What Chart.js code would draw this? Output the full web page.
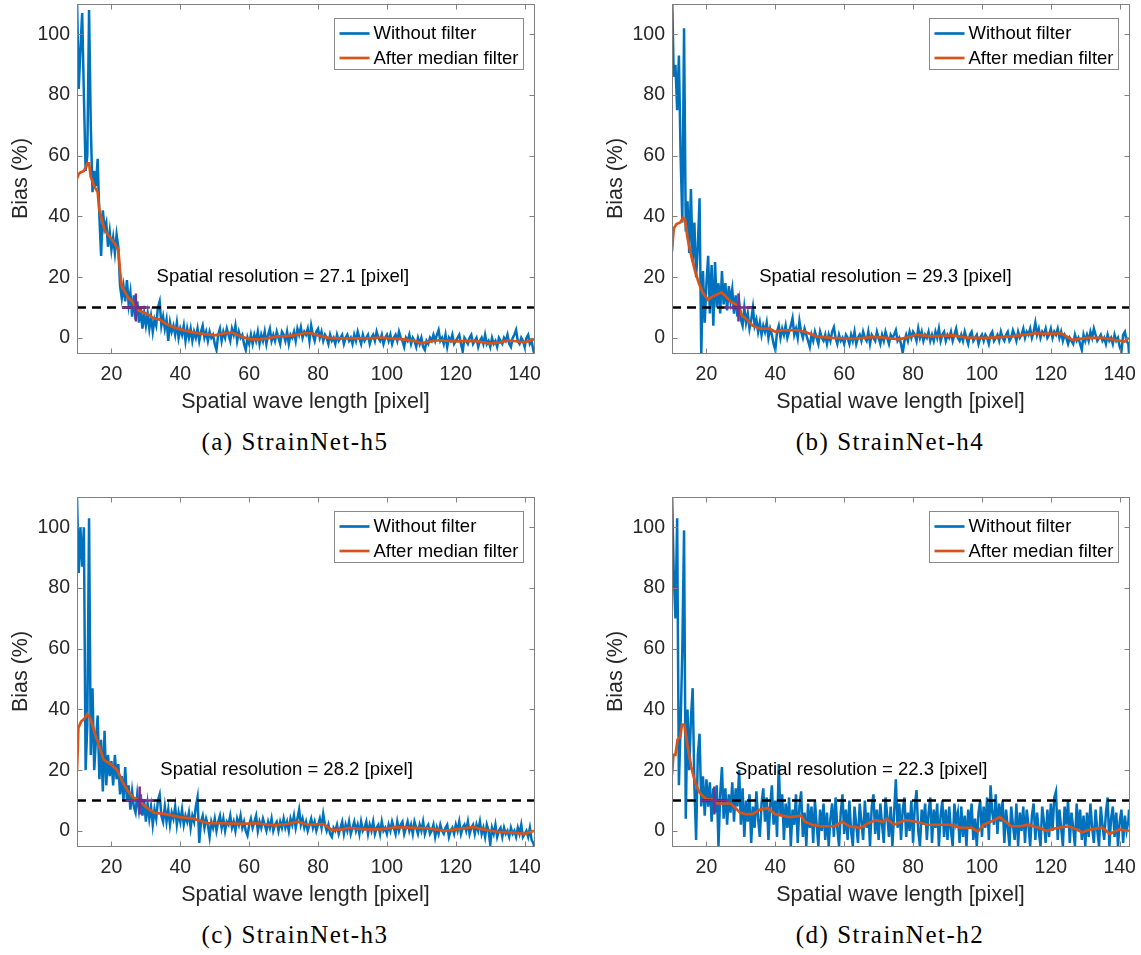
<!DOCTYPE html>
<html>
<head>
<meta charset="utf-8">
<script src="https://cdn.jsdelivr.net/npm/chart.js@4.4.0/dist/chart.umd.min.js"></script>
<style>
html,body{margin:0;padding:0;background:#fff;overflow:hidden;}
body{width:1141px;height:955px;position:relative;}
.panel{position:absolute;width:546px;height:420px;}
.panel canvas{display:block;}
.cap{position:absolute;font-family:"Liberation Serif","Times New Roman",serif;font-size:25px;letter-spacing:1.5px;color:#000;white-space:nowrap;transform:translate(-50%,-50%);}
</style>
</head>
<body>
<div class="panel" style="left:0;top:0"><canvas id="cA" width="546" height="420"></canvas></div>
<div class="panel" style="left:595px;top:0"><canvas id="cB" width="546" height="420"></canvas></div>
<div class="panel" style="left:0;top:493px"><canvas id="cC" width="546" height="420"></canvas></div>
<div class="panel" style="left:595px;top:493px"><canvas id="cD" width="546" height="420"></canvas></div>
<div class="cap" style="left:295px;top:442px">(a) StrainNet-h5</div>
<div class="cap" style="left:890px;top:442px">(b) StrainNet-h4</div>
<div class="cap" style="left:295px;top:935px">(c) StrainNet-h3</div>
<div class="cap" style="left:890px;top:935px">(d) StrainNet-h2</div>
<script>
// ---------- axis / tick data ----------
const X_MIN = 10, X_MAX = 142.7;
const Y_MIN = -5, Y_MAX = 110;
const X_TICKS = [20, 40, 60, 80, 100, 120, 140];
const Y_TICKS = [0, 20, 40, 60, 80, 100];
const THRESHOLD = 10;
const SERIES_NAMES = ['Without filter', 'After median filter'];
const X_TITLE = 'Spatial wave length [pixel]';
const Y_TITLE = 'Bias (%)';

// spatial wave lengths of the unfiltered curves
const WAVE_X = [
10,10.5,11,11.5,12,12.5,13,13.5,14,14.5,
15,15.5,16,16.5,17,17.5,18,18.5,19,19.5,
20,20.5,21,21.5,22,22.5,23,23.5,24,24.5,
25,25.5,26,26.5,27,27.5,28,28.5,29,29.5,
30,30.5,31,31.5,32,32.5,33,33.5,34,34.5,
35,35.5,36,36.5,37,37.5,38,38.5,39,39.5,
40,40.5,41,41.5,42,42.5,43,43.5,44,44.5,
45,45.5,46,46.5,47,47.5,48,48.5,49,49.5,
50,50.5,51,51.5,52,52.5,53,53.5,54,54.5,
55,55.5,56,56.5,57,57.5,58,58.5,59,59.5,
60,60.5,61,61.5,62,62.5,63,63.5,64,64.5,
65,65.5,66,66.5,67,67.5,68,68.5,69,69.5,
70,70.5,71,71.5,72,72.5,73,73.5,74,74.5,
75,75.5,76,76.5,77,77.5,78,78.5,79,79.5,
80,80.5,81,81.5,82,82.5,83,83.5,84,84.5,
85,85.5,86,86.5,87,87.5,88,88.5,89,89.5,
90,90.5,91,91.5,92,92.5,93,93.5,94,94.5,
95,95.5,96,96.5,97,97.5,98,98.5,99,99.5,
100,100.5,101,101.5,102,102.5,103,103.5,104,104.5,
105,105.5,106,106.5,107,107.5,108,108.5,109,109.5,
110,110.5,111,111.5,112,112.5,113,113.5,114,114.5,
115,115.5,116,116.5,117,117.5,118,118.5,119,119.5,
120,120.5,121,121.5,122,122.5,123,123.5,124,124.5,
125,125.5,126,126.5,127,127.5,128,128.5,129,129.5,
130,130.5,131,131.5,132,132.5,133,133.5,134,134.5,
135,135.5,136,136.5,137,137.5,138,138.5,139,139.5,
140,140.5,141,141.5,142,142.5,142.7];

// ---------- (a) StrainNet-h5 ----------
const H5_RAW = [
112,82,95,107,80,55,60,108,70,48,
55,50,59,40,27,42,36,38,30,35,
29,33,28,34,30,17,13,17,12,19,
11,15,7,14,6,12,5,10,3,8,
4,
8,3,7,2,6,4,10,12,4,7,
3,6,-1,5,2,4,1,5,0,3,
1,4,-1,3,0,3,-1,2,0,3,
-1,2,4,0,2,-1,2,0,1,-2,
-4,1,3,-1,2,0,3,1,-1,3,
1,4,-1,2,0,1,-2,-4,0,-2,
1,-2,1,-1,2,-2,1,-1,2,-2,
1,3,-1,1,-1,2,0,-2,2,1,
-1,2,-2,1,0,2,-1,3,1,3.5,
0,2,1,3,-1,4,1,-1,2,3,
0,2,-1,1,0,-2,1,-1,0,-2,
1,-1,0,1,-2,0,1,-1,0,-2,
1,-1,2,0,-2,1,-1,0,1,-2,
0,1,-1,2,0,-1,1,-2,0,1,
-1,1,-2,0,1,-1,2,0,-1,-3,
0,-1,1,-2,0,-1,-3,0,-2,0,
-3,-4,-1,-2,0,-1,1,-1,1,2.6,
-1,0,-2,1,-3,0,-1,1,-2,-1,
0,1,-2,-4.5,0,-1,-2,0,1,-2,
-1,0,-3,-1,0,-2,1,-2,-1,-3,
0,-2,-1,-3,0,-1,-2,0,-1,1,
-2,-3,0,1,2.6,-1,-2,0,-1,-3,
0,1,-2,-1,-4,-5];
const H5_MED_X = [10,10.5,11,12,12.5,13,13.5,14,15,16,16.5,17,18,19,20,21,22,22.5,23,24,
25,26,27,28,29,30,31,32,34,36,38,40,42,45,50,53,55,57,60,63,
66,68,70,73,76,78,80,83,86,90,95,98,100,105,108,110,112,115,118,120,
125,128,130,133,135,138,140,142.7];
const H5_MED_Y = [52.5,54,54.5,55,56,57.5,57.5,53,50,48,42,40,35.5,34,32.5,31,29,22,17,15,
13,12,10,9,8.5,8,7.5,6.5,6,4.5,3.5,2.8,2.2,1.5,0.8,1.5,1.8,0.8,-0.5,-0.5,
0,0.5,0.5,0.8,1.5,1.5,0.8,0,-0.2,-0.2,-0.2,0.1,-0.1,-0.5,-1,-1.8,-1.3,-0.8,-1,-1.2,
-1,-1.5,-1.8,-1.5,-0.8,-1.2,-1.5,-0.5];
const H5_RES = 27.1;

// ---------- (b) StrainNet-h4 ----------
const H4_RAW = [
115,86,90,75,93,60,38,102,35,45,
28,49,25,38,20,30,46,-6,22,5,
18,27,8,24,4,25,10,18,8,22,
11,18,9,17,12,16,8,14,7,12,
6,
4,10,5,8,3,6,10,4,6,2,
5,1,4,2,5,0,3,1,-2,-4,
2,4,0,3,1,4,0,2,4,6.5,
1,3,0,5.5,2,0,3,1,-1,-3,
1,-1,2,0,-2,2,0,-1,1,-2,
1,-1,2,3.5,0,-2,1,-1,0,-2,
1,0,-2,1,-1,2,-2,0,1,-1,
2,0,-1,2,-2,1,0,-1,2,0,
-2,1,-1,2,0,-2,1,0,1,2.5,
-1,0,-2,-5,-1,1,-1,2,0,2,
1,-1,3,0,2,-1,1,0,2,-1,
1,-1,2,0,3,-1,1,2,-1,1,
0,2,-1,1,3,0,-1,1,-1,2,
0,-2,1,2,-1,0,1,-2,0,1,
-1,1,0,-2,1,2,-1,0,1,-1,
2,0,-1,1,2,-1,0,2.5,1,-1,
2,0,1,3,0,2,1,3,0,2,
5,1,3,0,2,1,3,0,1,3,
0,2,1,3,0,2,-1,1,0,-2,
0,-1,-2,1,-1,0,-2,-4,1,-1,
1,-1,2,0,3,1,-1,0,1,-1,
0,-2,1,-1,0,-2,1,-1,0,-3,
-4.5,1,2,-1,-2,-5];
const H4_MED_X = [10,10.5,11.3,12.4,13.2,13.8,14.5,15.6,16.7,17.8,18.9,20.5,21.6,22.6,24.3,25.3,27,28.6,29.7,30.2,
31.8,33.4,35.6,38.3,40,42,46.4,48.6,51.8,56.1,62.6,69,72.3,76,81,85.3,91.7,96,101.5,109,
115.5,119.8,123,126.3,130.6,134.9,139.3,141.4,142.7];
const H4_MED_Y = [28.5,36,37.5,38,39.5,39,33,27,22,18,15,12.5,13.5,14,15,14,12,11,9.5,7.5,
6,4,3,3,2,2.5,2.5,2,0.5,0,-0.3,0.3,0,-0.5,1,0.5,0.8,0,0,0.5,
1.5,1.3,1.5,-0.7,0,0,-0.8,-1.2,0];
const H4_RES = 29.3;

// ---------- (c) StrainNet-h3 ----------
const H3_RAW = [
110,85,100,87,100,20,35,103,25,47,
20,30,38,17,30,13,33,15,25,18,
23,15,25,17,22,12,18,10,21,10,
15,7,13,8,6,12,7,12,5,10,
3,
9,4,8,2,7,4,10,12,5,3,
8,3,7,2,6,4,8,2,6,3,
7,2,5,3,6,1,5,3,8,11,
-4,3,5,1,4,2,-2,3,1,4,
0,3,5,1,4,0,3,2,5,1,
3,0,4,2,5,1,3,0,-1.5,2,
4,1,3,5,0,3,1,4,2,0,
3,1,4,0,2,3,0,3,1,4,
1,3,0,4,2,5,1,4,7,2,
4,1,3,0,2,4,1,3,0,2,
4,1,5.5,2,0,2,-1,-2,1,0,
2,-1,1,3,-1,2,0,3,-1,1,
3,0,2,-1,3,0,1,3,-1,2,
0,3,-1,1,2,-1,3,0,1,-1,
2,0,3,1,-1,3,0,2,3,-1,
1,3,0,2,-1,3,1,-1,2,0,
3,-1,1,2,-1,0,2,-2,1,-1,
2,0,-1,1,2,-2,0,1,-1,2,
0,3,-1,1,2,0,3,-1,1,2,
-1,2,0,3,-1,1,-2,2,0,-4.5,
1,-1,2,-2,0,1,-2,1,-1,0,
-2,1,-1,0,-2,1,-1,2,-2,-1,
0,-2,1,-3,-4,-5];
const H3_MED_X = [10,10.4,11.2,12.2,13,13.9,15.2,16.7,17.7,19.7,21.7,23.3,24.8,26.3,28.2,29.8,32.3,35.8,39.8,43.8,
47.9,51.9,57.9,62,67,71,74,77,81.5,84,87,89,94,98,103,108,112,117,122,125,
128,132,136,140,142.7];
const H3_MED_Y = [20,34,36,37,38.5,37,32,27,23.5,22,20,16,13,11,10,8,6,5.5,4.5,4,
2.5,2.5,2.3,2.5,1.8,2.2,3,2,2.2,0.3,0.5,1,0.5,0.5,1.2,1,0.8,0,0.8,1.2,
0.5,-0.3,-0.5,-1,0];
const H3_RES = 28.2;

// ---------- (d) StrainNet-h2 ----------
const H2_RAW = [
112,85,70,103,15,35,60,99,4,40,
20,37,47,15,-3,25,32,8,18,5,
17,8,16,3,14,6,15,-5,12,21,
4,14,2,12,6,16,3,14,8,20,
2,
14,-2,10,3,12,-4,8,1,13,4,
-2,9,14,3,11,-3,8,15,2,10,
-2,22,5,12,-3,9,1,11,-5,7,
2,12,-4,8,13,-2,6,-5,9,1,
8,-4,10,2,-5,7,0,9,-3,6,
-5,4,9,-2,11,1,-5,6,12,-1,
7,-3,10,0,-5,8,2,-4,9,3,
-3,10,1,6,-5,8,12,-1,7,-3,
9,2,-4,11,5,-2,8,-5,6,17,
1,9,-3,7,11,-2,6,0,10,-4,
8,13.4,0,-5,7,2,9,-3,6,11,
-4,7,1,9,-5,5,10,-2,7,-3,
8,0,-5,9,3,6,-4,8,-2,5,
-5,7,1,9,-3,4,-5,6,10,-2,
8,1,11,-3,15,6,2,12,-1,9,
3,10,-4,7,1,-5,8,2,-3,9,
-5,6,0,8,-4,7,2,-5,5,9,
-3,6,0,-5,8,3,-4,7,-2,9,
0,11,13,-3,7,1,-5,8,2,10,
-4,6,1,-5,9,0,7,-3,5,-5,
6,-2,9,1,-4,7,0,-5,8,2,
-3,6,11,-5,4,8,-2,6,-5,3,
7,-4,5,0,3,7];
const H2_MED_X = [10,10.4,11,11.6,12.4,12.9,13.6,14.5,15.6,16.7,17.8,18.9,19.9,21.6,22.3,22.6,23.2,27,28,29.7,
31.3,33.4,35.6,37.8,39.9,42,44.2,47.5,48.6,50.7,52.9,57.2,59.4,61.5,64.8,66.9,69.1,71.2,72.3,74.5,
77.7,80.9,84.2,87.4,90.7,93.9,97.1,98.8,100.4,102.5,105.2,106.9,108.5,111.2,113.3,116.6,118.7,122,125.2,127.4,
129,131.7,135,137.1,139.8,142.7];
const H2_MED_Y = [18.5,25,25,30,31,35,35,28,21,16,13,11.5,10.5,10.3,10,9.3,9,9,8,6,
5.5,5.5,7,7.5,5.5,5,4.5,5,3,2,1.5,1.5,3,1.5,1,2.5,3.5,3,4,2,
3.5,3,2,2,2,1,1,-0.3,2,3,4.5,3,1.5,1.5,2,1,0,1,1.5,0.5,
-0.5,0.5,1,-1,0.5,0];
const H2_RES = 22.3;

// ---------- styles ----------
const BLUE = '#0072BD', ORANGE = '#D95319', PURPLE = '#7E2F8E';
const SANS = '"Liberation Sans", Arial, Helvetica, sans-serif';
const TEXT_COL = '#262626', AXIS_COL = '#808080';

const matlabAxes = {
  id: 'matlabAxes',
  afterDatasetsDraw(chart, args, opts) {
    const {ctx, chartArea: a, scales: {x, y}} = chart;
    ctx.save();
    ctx.fillStyle = '#000';
    ctx.font = '18.5px ' + SANS;
    ctx.textAlign = 'left';
    ctx.textBaseline = 'middle';
    ctx.fillText(opts.note, x.getPixelForValue(opts.noteX), y.getPixelForValue(opts.noteY));
    const L = Math.round(a.left) + 0.5, R = Math.round(a.right) + 0.5;
    const T = Math.round(a.top) + 0.5, B = Math.round(a.bottom) + 0.5;
    ctx.strokeStyle = AXIS_COL;
    ctx.lineWidth = 1;
    ctx.strokeRect(L, T, R - L, B - T);
    ctx.beginPath();
    const tl = 5;
    x.ticks.forEach(t => {
      const px = Math.round(x.getPixelForValue(t.value)) + 0.5;
      ctx.moveTo(px, B); ctx.lineTo(px, B - tl);
      ctx.moveTo(px, T); ctx.lineTo(px, T + tl);
    });
    y.ticks.forEach(t => {
      const py = Math.round(y.getPixelForValue(t.value)) + 0.5;
      ctx.moveTo(L, py); ctx.lineTo(L + tl, py);
      ctx.moveTo(R, py); ctx.lineTo(R - tl, py);
    });
    ctx.stroke();
    const bw = 189, bh = 51;
    const bx = Math.round(a.right - 11 - bw) + 0.5, by = Math.round(a.top + 14) + 0.5;
    ctx.fillStyle = '#fff';
    ctx.fillRect(bx, by, bw, bh);
    ctx.strokeStyle = '#8a8a8a';
    ctx.strokeRect(bx, by, bw, bh);
    const items = chart.data.datasets.filter(d => SERIES_NAMES.includes(d.label))
      .sort((p, q) => SERIES_NAMES.indexOf(p.label) - SERIES_NAMES.indexOf(q.label));
    ctx.font = '18.5px ' + SANS;
    ctx.textBaseline = 'middle';
    items.forEach((d, i) => {
      const cy = by + 15 + i * 24.5;
      ctx.strokeStyle = d.borderColor;
      ctx.lineWidth = 2.7;
      ctx.beginPath();
      ctx.moveTo(bx + 5, cy); ctx.lineTo(bx + 35, cy);
      ctx.stroke();
      ctx.fillStyle = '#000';
      ctx.fillText(d.label, bx + 39, cy + 0.5);
    });
    ctx.restore();
  }
};

function pts(xs, ys) {
  const n = Math.min(xs.length, ys.length);
  const out = [];
  for (let i = 0; i < n; i++) out.push({x: xs[i], y: ys[i]});
  return out;
}

function makePanel(id, rawY, medX, medY, res) {
  new Chart(document.getElementById(id), {
    type: 'line',
    data: {
      datasets: [
        {label: 'resolution', data: [{x: res, y: THRESHOLD}], showLine: false,
         pointStyle: 'cross', pointRadius: 14, pointBorderWidth: 2.5,
         pointBorderColor: PURPLE, borderColor: PURPLE, clip: false},
        {label: 'threshold', data: [{x: X_MIN, y: THRESHOLD}, {x: X_MAX, y: THRESHOLD}],
         borderColor: '#000', borderWidth: 2.5, borderDash: [9, 6], pointRadius: 0, clip: 0},
        {label: SERIES_NAMES[1], data: pts(medX, medY), borderColor: ORANGE, borderWidth: 2.7,
         pointRadius: 0, tension: 0, clip: 0},
        {label: SERIES_NAMES[0], data: pts(WAVE_X, rawY), borderColor: BLUE, borderWidth: 2.5,
         pointRadius: 0, tension: 0, clip: 0}
      ]
    },
    options: {
      responsive: false, animation: false, devicePixelRatio: 1,
      events: [],
      layout: {autoPadding: false, padding: {left: 0, right: 12, top: 4, bottom: 0}},
      plugins: {
        legend: {display: false}, tooltip: {enabled: false},
        matlabAxes: {note: 'Spatial resolution = ' + res.toFixed(1) + ' [pixel]', noteX: res + 6, noteY: 20}
      },
      scales: {
        x: {
          type: 'linear', min: X_MIN, max: X_MAX,
          afterBuildTicks: s => { s.ticks = X_TICKS.map(v => ({value: v})); },
          afterFit: s => { s.height = 67; s.paddingLeft = 0; s.paddingRight = 0; },
          grid: {display: false, drawTicks: false}, border: {display: false},
          ticks: {padding: 10, color: TEXT_COL, autoSkip: false, maxRotation: 0,
                  font: {family: SANS, size: 19.5}},
          title: {display: true, text: X_TITLE, color: TEXT_COL,
                  font: {family: SANS, size: 21.5, lineHeight: 1.2}, padding: {top: 0, bottom: 5}}
        },
        y: {
          type: 'linear', min: Y_MIN, max: Y_MAX,
          afterBuildTicks: s => { s.ticks = Y_TICKS.map(v => ({value: v})); },
          afterFit: s => { s.width = 77; s.paddingTop = 0; s.paddingBottom = 0; },
          grid: {display: false, drawTicks: false}, border: {display: false},
          ticks: {padding: 7, color: TEXT_COL, font: {family: SANS, size: 19.5}},
          title: {display: true, text: Y_TITLE, color: TEXT_COL,
                  font: {family: SANS, size: 21.5, lineHeight: 1.2}, padding: {top: 8.5, bottom: 0}}
        }
      }
    },
    plugins: [matlabAxes]
  });
}

makePanel('cA', H5_RAW, H5_MED_X, H5_MED_Y, H5_RES);
makePanel('cB', H4_RAW, H4_MED_X, H4_MED_Y, H4_RES);
makePanel('cC', H3_RAW, H3_MED_X, H3_MED_Y, H3_RES);
makePanel('cD', H2_RAW, H2_MED_X, H2_MED_Y, H2_RES);
</script>
</body>
</html>
